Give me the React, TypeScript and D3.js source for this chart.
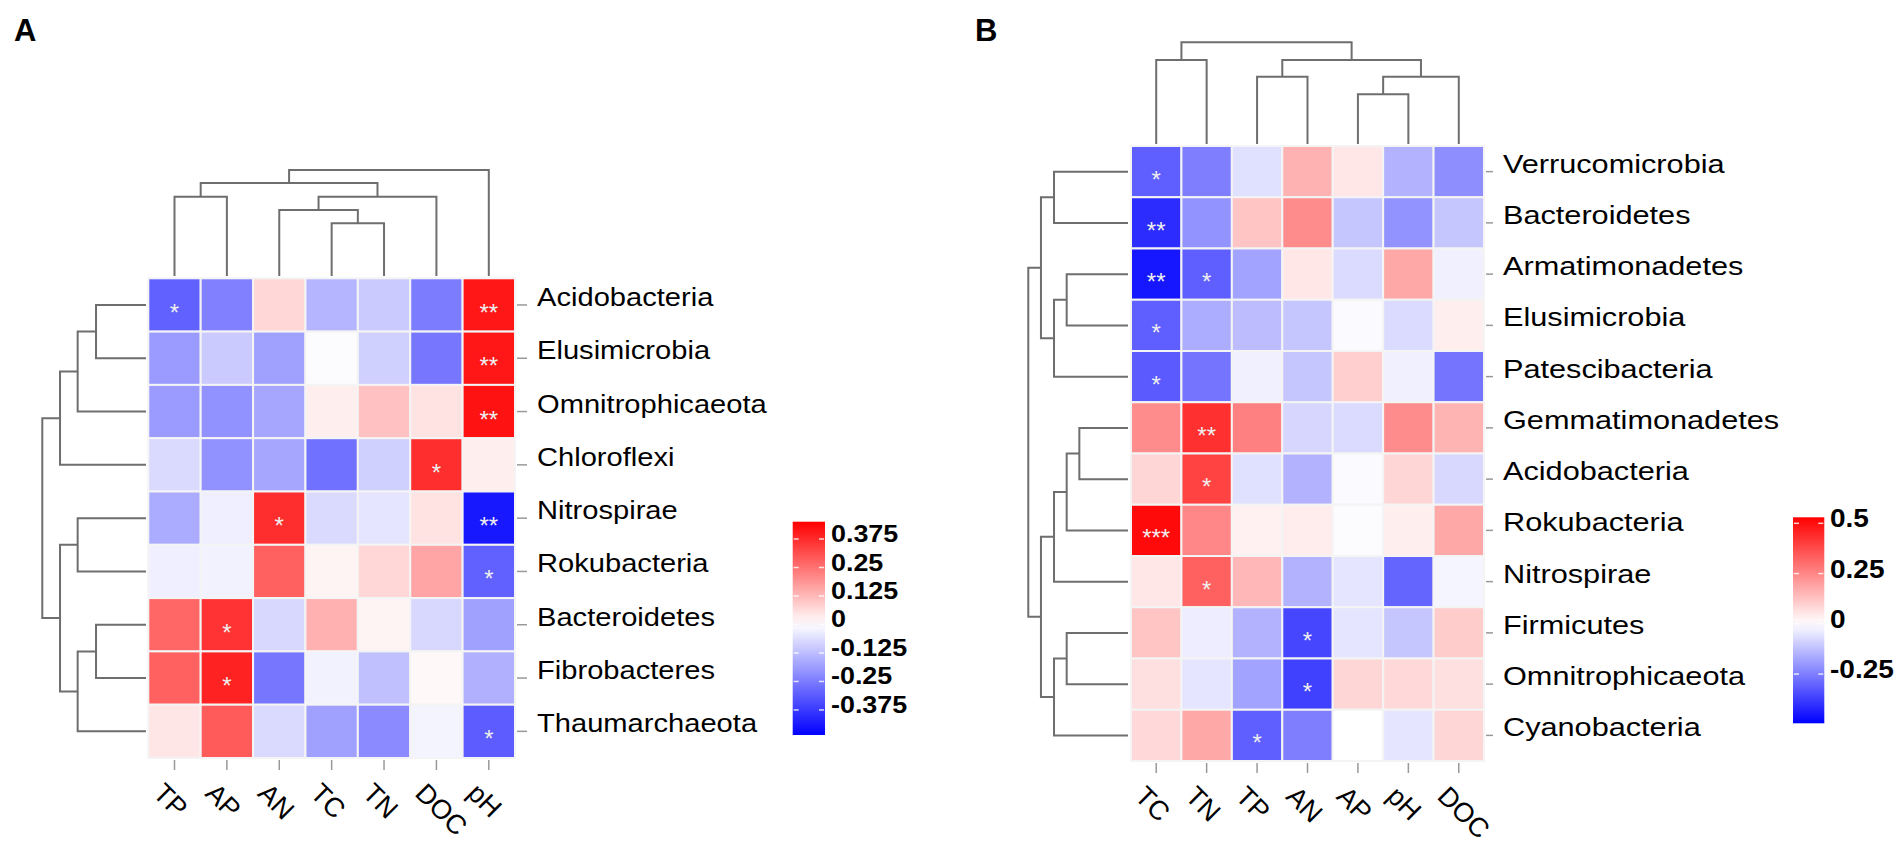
import React from 'react'
import * as d3 from 'd3'

// ---- panel A data ----
const colsA = ['TP', 'AP', 'AN', 'TC', 'TN', 'DOC', 'pH']
const rowsA = ['Acidobacteria', 'Elusimicrobia', 'Omnitrophicaeota', 'Chloroflexi', 'Nitrospirae',
    'Rokubacteria', 'Bacteroidetes', 'Fibrobacteres', 'Thaumarchaeota']
const valuesA = [
    [-0.30, -0.24, 0.07, -0.14, -0.10, -0.25, 0.41],
    [-0.19, -0.10, -0.18, -0.005, -0.09, -0.26, 0.41],
    [-0.19, -0.21, -0.17, 0.03, 0.11, 0.05, 0.42],
    [-0.07, -0.21, -0.17, -0.27, -0.09, 0.37, 0.03],
    [-0.16, -0.03, 0.37, -0.07, -0.05, 0.05, -0.44],
    [-0.03, -0.025, 0.28, 0.02, 0.07, 0.16, -0.30],
    [0.27, 0.36, -0.075, 0.14, 0.02, -0.075, -0.18],
    [0.28, 0.39, -0.26, -0.025, -0.12, 0.012, -0.15],
    [0.045, 0.29, -0.07, -0.18, -0.22, -0.02, -0.31],
]
const starsA = [
    ['*', '', '', '', '', '', '**'],
    ['', '', '', '', '', '', '**'],
    ['', '', '', '', '', '', '**'],
    ['', '', '', '', '', '*', ''],
    ['', '', '*', '', '', '', '**'],
    ['', '', '', '', '', '', '*'],
    ['', '*', '', '', '', '', ''],
    ['', '*', '', '', '', '', ''],
    ['', '', '', '', '', '', '*'],
]
// dendrograms: [height, left, right], leaves are indices
const colTreeA = [1.0, [0.877, [0.748, 0, 1], [0.748, [0.623, 2, [0.497, 3, 4]], 5]], 6]
const rowTreeA = [1.0, [0.829, [0.659, [0.482, 0, 1], 2], 3], [0.829, [0.659, 4, 5], [0.659, [0.482, 6, 7], 8]]]
const legendTicksA = [0.375, 0.25, 0.125, 0, -0.125, -0.25, -0.375]
const rangeA = [-0.485, 0.451]

// ---- panel B data ----
const colsB = ['TC', 'TN', 'TP', 'AN', 'AP', 'pH', 'DOC']
const rowsB = ['Verrucomicrobia', 'Bacteroidetes', 'Armatimonadetes', 'Elusimicrobia', 'Patescibacteria',
    'Gemmatimonadetes', 'Acidobacteria', 'Rokubacteria', 'Nitrospirae', 'Firmicutes', 'Omnitrophicaeota', 'Cyanobacteria']
const valuesB = [
    [-0.31, -0.25, -0.06, 0.16, 0.05, -0.15, -0.22],
    [-0.41, -0.21, 0.12, 0.24, -0.11, -0.21, -0.11],
    [-0.45, -0.31, -0.18, 0.05, -0.07, 0.18, -0.03],
    [-0.31, -0.16, -0.13, -0.11, -0.01, -0.07, 0.035],
    [-0.32, -0.27, -0.03, -0.11, 0.10, -0.03, -0.27],
    [0.24, 0.43, 0.265, -0.08, -0.07, 0.24, 0.155],
    [0.085, 0.39, -0.06, -0.15, -0.01, 0.085, -0.075],
    [0.51, 0.25, 0.03, 0.04, -0.005, 0.035, 0.18],
    [0.05, 0.33, 0.15, -0.15, -0.05, -0.30, -0.02],
    [0.12, -0.035, -0.15, -0.36, -0.05, -0.11, 0.105],
    [0.065, -0.05, -0.18, -0.37, 0.085, 0.08, 0.065],
    [0.08, 0.18, -0.31, -0.25, 0.0, -0.05, 0.085],
]
const starsB = [
    ['*', '', '', '', '', '', ''],
    ['**', '', '', '', '', '', ''],
    ['**', '*', '', '', '', '', ''],
    ['*', '', '', '', '', '', ''],
    ['*', '', '', '', '', '', ''],
    ['', '**', '', '', '', '', ''],
    ['', '*', '', '', '', '', ''],
    ['***', '', '', '', '', '', ''],
    ['', '*', '', '', '', '', ''],
    ['', '', '', '*', '', '', ''],
    ['', '', '', '*', '', '', ''],
    ['', '', '*', '', '', '', ''],
]
const colTreeB = [1.0, [0.826, 0, 1], [0.826, [0.662, 2, 3], [0.662, [0.489, 4, 5], 6]]]
const rowTreeB = [1.0, [0.873, [0.742, 0, 1], [0.742, [0.615, 2, 3], 4]],
    [0.873, [0.742, [0.615, [0.488, 5, 6], 7], 8], [0.742, [0.615, 9, 10], 11]]]
const legendTicksB = [0.5, 0.25, 0, -0.25]
const rangeB = [-0.495, 0.53]

const FONT = "Arial, 'Liberation Sans', Helvetica, sans-serif"
const LINE = '#6e6e6e'

function dendro(tree: any, pos: (i: number) => number, hs: d3.ScaleLinear<number, number>, top: boolean) {
    const paths: string[] = []
    const walk = (node: any): { p: number; h: number } => {
        if (typeof node === 'number') return { p: pos(node), h: 0 }
        const [h, a, b] = node
        const A = walk(a), B = walk(b)
        if (top) paths.push(`M${A.p},${hs(A.h)}V${hs(h)}H${B.p}V${hs(B.h)}`)
        else paths.push(`M${hs(A.h)},${A.p}H${hs(h)}V${B.p}H${hs(B.h)}`)
        return { p: (A.p + B.p) / 2, h }
    }
    walk(tree)
    return paths
}

const Panel = ({ id, cols, rows, values, stars, colTree, rowTree, range, ticks, box, dendro: dd, lab, leg }: any) => {
    const x = d3.scaleBand().domain(cols).range([box.x0, box.x1])
    const y = d3.scaleBand().domain(rows).range([box.y0, box.y1])
    const color = d3.scaleLinear<string>().domain([range[0], 0, range[1]])
        .range(['#0000ff', '#ffffff', '#ff0000']).clamp(true)
    const cx = (i: number) => x(cols[i])! + x.bandwidth() / 2
    const cy = (i: number) => y(rows[i])! + y.bandwidth() / 2
    const colH = d3.scaleLinear().domain([0, 1]).range([dd.colLeaf, dd.colRoot])
    const rowH = d3.scaleLinear().domain([0, 1]).range([dd.rowLeaf, dd.rowRoot])
    const colPaths = dendro(colTree, cx, colH, true)
    const rowPaths = dendro(rowTree, cy, rowH, false)

    const ly = d3.scaleLinear().domain([range[1], range[0]]).range([leg.y0, leg.y1])
    const stops = d3.range(0, 21).map(k => {
        const v = range[1] - (k / 20) * (range[1] - range[0])
        return { off: k / 20, c: color(v) }
    })

    return (
        <g>
            {colPaths.map((d, i) => <path key={'c' + i} d={d} fill="none" stroke={LINE} strokeWidth={2} />)}
            {rowPaths.map((d, i) => <path key={'r' + i} d={d} fill="none" stroke={LINE} strokeWidth={2} />)}
            {values.map((row: number[], ri: number) => row.map((v, ci) => (
                <rect key={ri + '-' + ci} x={x(cols[ci])} y={y(rows[ri])} width={x.bandwidth()} height={y.bandwidth()}
                    fill={color(v)} stroke="#f4f4f4" strokeWidth={2} />
            )))}
            {stars.map((row: string[], ri: number) => row.map((s, ci) => s ? (
                <text key={'s' + ri + '-' + ci} x={cx(ci)} y={cy(ri) + 16} textAnchor="middle" fontSize={24}
                    fontFamily={FONT} fill="#eeeeee">{s}</text>
            ) : null))}
            {rows.map((r: string, i: number) => (
                <g key={'rl' + i}>
                    <line x1={lab.tick0} x2={lab.tick1} y1={cy(i)} y2={cy(i)} stroke="#999" strokeWidth={1.5} />
                    <text transform={`translate(${lab.textX},${cy(i) + 1}) scale(${lab.sx},1)`} fontSize={26}
                        fontFamily={FONT} fill="#000">{r}</text>
                </g>
            ))}
            {cols.map((c: string, i: number) => (
                <g key={'cl' + i}>
                    <line x1={cx(i)} x2={cx(i)} y1={box.y1 + 2} y2={box.y1 + 12} stroke="#999" strokeWidth={1.5} />
                    <text transform={`translate(${cx(i) - 9},${box.y1 + 23}) rotate(45)`} dy="0.72em" fontSize={27}
                        fontFamily={FONT} fill="#000">{c}</text>
                </g>
            ))}
            <defs>
                <linearGradient id={id} x1="0" y1="0" x2="0" y2="1">
                    {stops.map((s, i) => <stop key={i} offset={s.off} stopColor={s.c} />)}
                </linearGradient>
            </defs>
            <rect x={leg.x0} y={leg.y0} width={leg.x1 - leg.x0} height={leg.y1 - leg.y0} fill={`url(#${id})`} />
            {ticks.map((t: number, i: number) => (
                <g key={'lt' + i}>
                    <line x1={leg.x0 + 1} x2={leg.x0 + 6} y1={ly(t)} y2={ly(t)} stroke="#fff" strokeWidth={1.5} opacity={0.8} />
                    <line x1={leg.x1 - 6} x2={leg.x1 - 1} y1={ly(t)} y2={ly(t)} stroke="#fff" strokeWidth={1.5} opacity={0.8} />
                    <text transform={`translate(${leg.labelX},${ly(t) + leg.dy}) scale(1.12,1)`} fontSize={leg.fs}
                        fontWeight="bold" fontFamily={FONT} fill="#000">{t}</text>
                </g>
            ))}
        </g>
    )
}

export default function App() {
    return (
        <svg width={1901} height={844} style={{ position: 'absolute', left: 0, top: 0, background: '#fff' }}>
            <rect width={1901} height={844} fill="#fff" />
            <text x={14} y={41} fontSize={31} fontWeight="bold" fontFamily={FONT}>A</text>
            <text x={975} y={41} fontSize={31} fontWeight="bold" fontFamily={FONT}>B</text>
            <Panel id="gradA" cols={colsA} rows={rowsA} values={valuesA} stars={starsA}
                colTree={colTreeA} rowTree={rowTreeA} range={rangeA} ticks={legendTicksA}
                box={{ x0: 148.3, x1: 515, y0: 278.3, y1: 758 }}
                dendro={{ colLeaf: 276, colRoot: 170, rowLeaf: 146, rowRoot: 42.3 }}
                lab={{ tick0: 517, tick1: 527, textX: 537, sx: 1.12 }}
                leg={{ x0: 792.7, x1: 825, y0: 521.7, y1: 735, labelX: 831, dy: 3, fs: 24 }} />
            <Panel id="gradB" cols={colsB} rows={rowsB} values={valuesB} stars={starsB}
                colTree={colTreeB} rowTree={rowTreeB} range={rangeB} ticks={legendTicksB}
                box={{ x0: 1131, x1: 1484, y0: 146, y1: 761 }}
                dendro={{ colLeaf: 144, colRoot: 42.3, rowLeaf: 1128, rowRoot: 1028.3 }}
                lab={{ tick0: 1486, tick1: 1493, textX: 1503, sx: 1.18 }}
                leg={{ x0: 1793, x1: 1824.3, y0: 517.3, y1: 723.3, labelX: 1830, dy: 4, fs: 25 }} />
        </svg>
    )
}
